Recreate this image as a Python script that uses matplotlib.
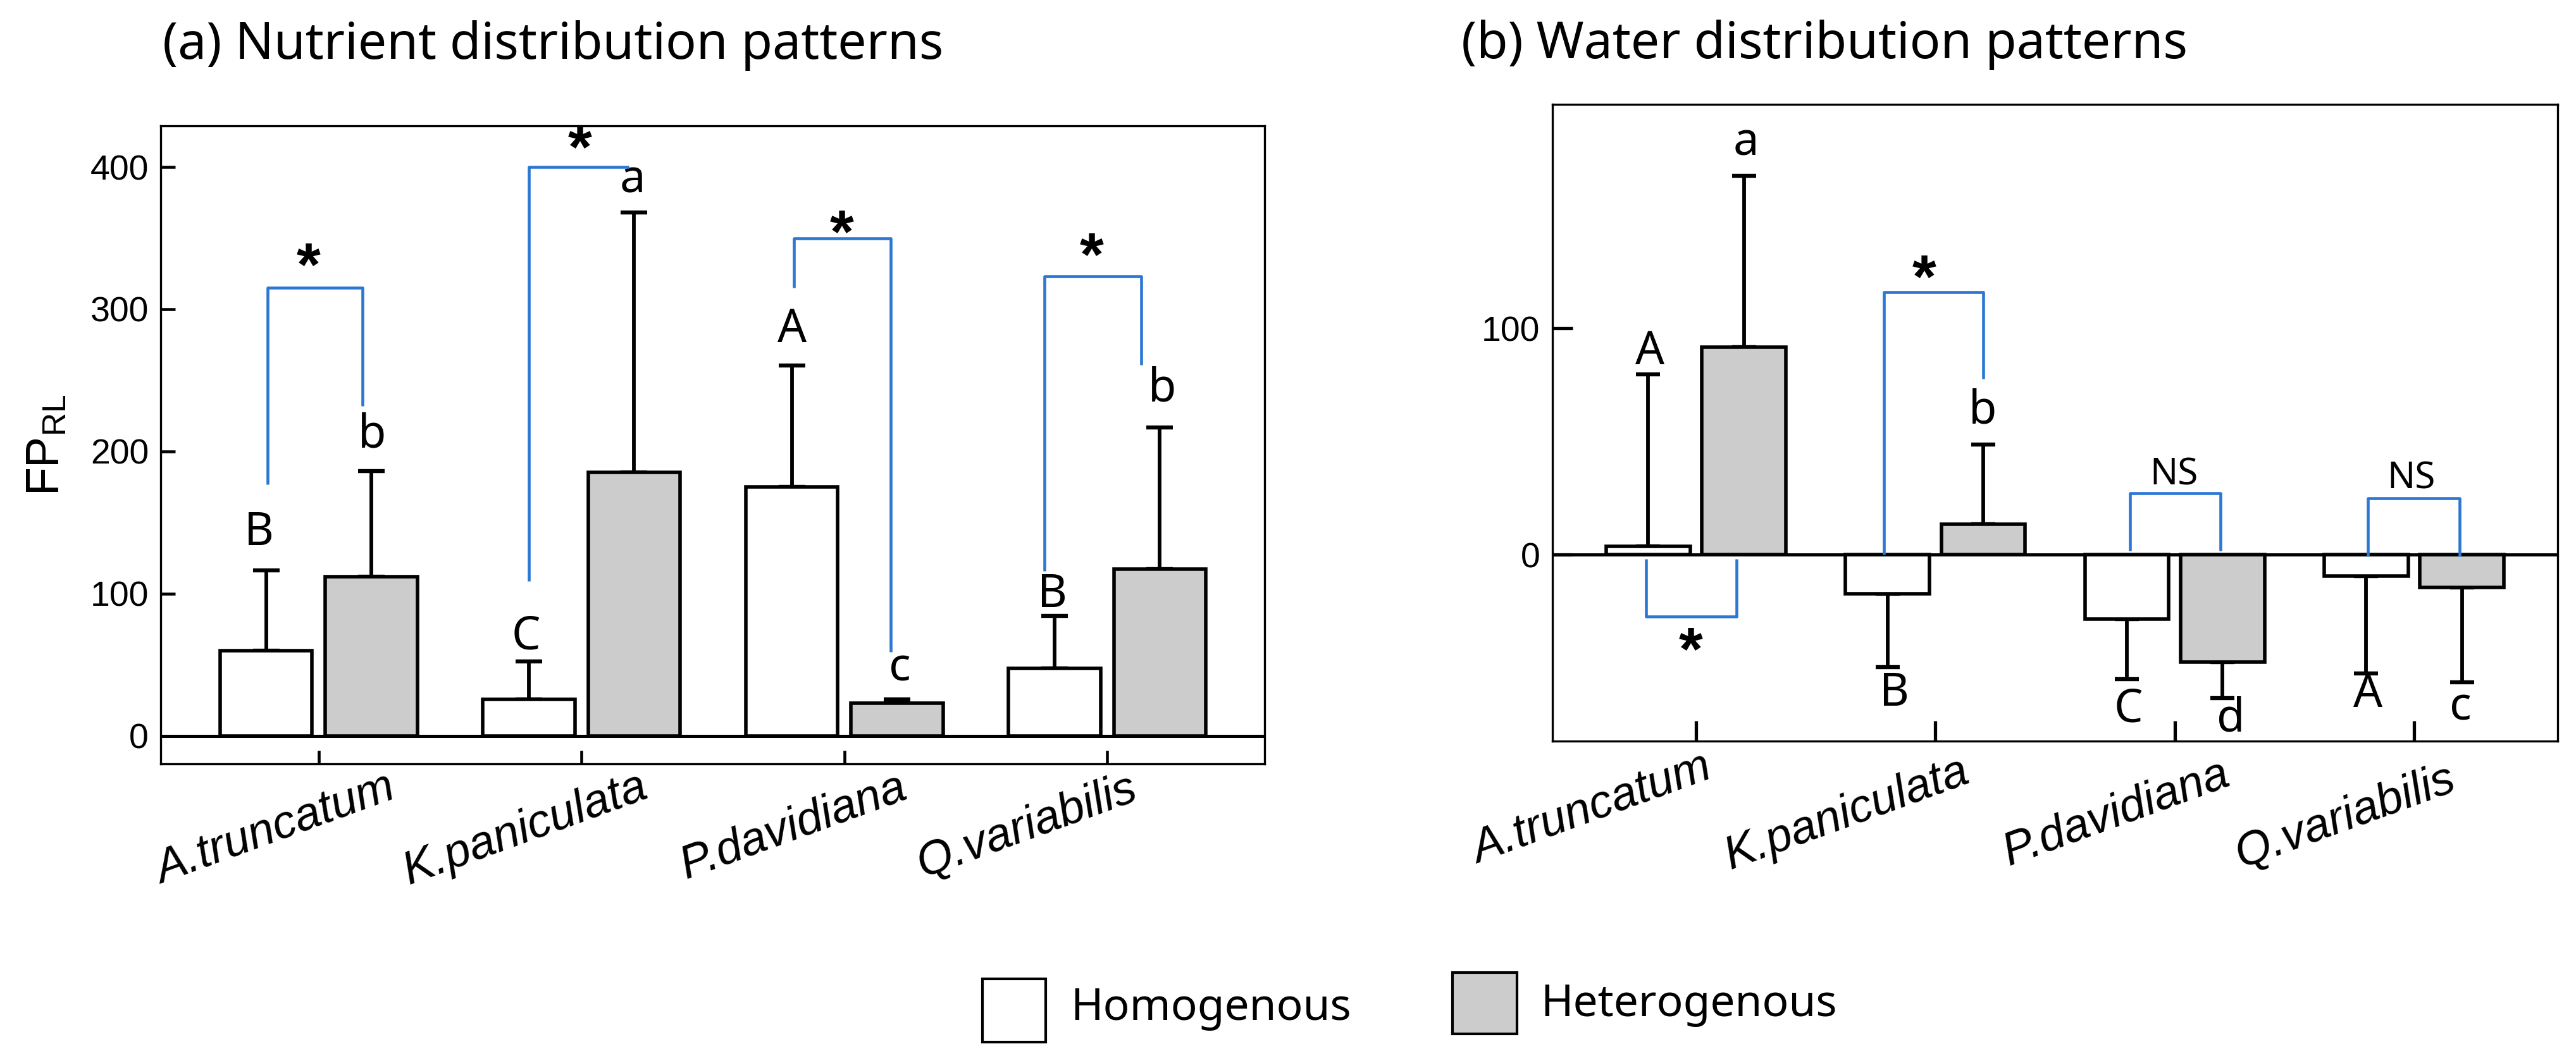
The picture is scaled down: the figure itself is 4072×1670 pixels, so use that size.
import matplotlib
matplotlib.use('Agg')
import matplotlib.pyplot as plt
from matplotlib.patches import Rectangle
from matplotlib.transforms import ScaledTranslation
import numpy as np

# ---------------- data ----------------
species = ['A.truncatum', 'K.paniculata', 'P.davidiana', 'Q.variabilis']

nut_homo = [60.0, 25.8, 175.2, 47.7]
nut_homo_se = [56.4, 26.6, 85.4, 36.5]
nut_het = [112.0, 185.5, 23.0, 117.2]
nut_het_se = [74.3, 182.3, 2.8, 99.7]

wat_homo = [3.7, -17.2, -28.4, -9.5]
wat_homo_se = [75.9, 32.4, 26.7, 42.9]
wat_het = [91.5, 13.5, -47.4, -14.5]
wat_het_se = [75.8, 35.1, 15.9, 41.9]

nut_letters_homo = ['B', 'C', 'A', 'B']
nut_letters_het = ['b', 'a', 'c', 'b']
wat_letters_homo = ['A', 'B', 'C', 'A']
wat_letters_het = ['a', 'b', 'd', 'c']

nut_yticks = [0, 100, 200, 300, 400]
wat_yticks = [0, 100]

legend_labels = ['Homogenous', 'Heterogenous']
titles = ['(a) Nutrient distribution patterns', '(b) Water distribution patterns']

# annotation geometry (data coords)
nut_letter_pos_homo = [(-0.226, 134), (0.789, 61), (1.80, 277), (2.79, 90.5)]
nut_letter_pos_het = [(0.204, 203), (1.195, 382), (2.21, 39), (3.21, 235.5)]
wat_letter_pos_homo = [(-0.193, 84), (0.829, -66.8), (1.806, -73.8), (2.807, -67.3)]
wat_letter_pos_het = [(0.209, 176.3), (1.198, 57.9), (2.235, -78), (3.193, -73)]

nut_brackets = [
    ([-0.195, -0.195, 0.167, 0.167], [177, 315, 315, 232], '*', (-0.038, 337)),
    ([0.799, 0.799, 1.18], [109, 400, 400], '*', (0.993, 419.6)),
    ([1.808, 1.808, 2.176, 2.176], [315, 350, 350, 59], '*', (1.991, 360)),
    ([2.761, 2.761, 3.129, 3.129], [116, 323, 323, 261], '*', (2.94, 344)),
]
wat_brackets = [
    ([-0.209, -0.209, 0.169, 0.169], [-2, -27.4, -27.4, -2], '*', (-0.021, -38.2)),
    ([0.786, 0.786, 1.2006, 1.2006], [0, 116, 116, 77.8], '*', (0.952, 126.4)),
    ([1.812, 1.812, 2.192, 2.192], [1.7, 27.2, 27.2, 1.7], 'NS', (1.996, 30.9)),
    ([2.807, 2.807, 3.19, 3.19], [-0.7, 25, 25, -0.7], 'NS', (2.988, 29.2)),
]

# x tick label placement: right end of baseline relative to tick (pixels)
nut_lbl_dx = [125, 109, 103, 51]
nut_lbl_dy = [54, 52, 53, 54]
wat_lbl_dx = [29, 58, 91, 69]
wat_lbl_dy = [58, 64, 68, 75]

# ---------------- style ----------------
W, H, DPI = 4073, 1670, 100
BLUE = '#2b77d2'
GRAY = '#cccccc'
SANS = ['Noto Sans', 'DejaVu Sans']
ARIAL = ['Liberation Sans', 'DejaVu Sans']

fig = plt.figure(figsize=(W / DPI, H / DPI), dpi=DPI)
fig.patch.set_facecolor('white')

ax_a = fig.add_axes([254.5 / W, 1 - 1208 / H, (1999.5 - 254.5) / W, (1208 - 199) / H])
ax_b = fig.add_axes([2454 / W, 1 - 1172 / H, (4043 - 2454) / W, (1172 - 165) / H])

bw = 0.35
off = 0.2
x = np.arange(len(species))


def draw_panel(ax, homo, homo_se, het, het_se, lh, lhp, lt, ltp, brackets,
               ylim, yticks, tlen_y, tlen_x, twidth, capsize, lbl_dx, lbl_dy):
    homo = np.array(homo)
    het = np.array(het)
    hse = np.array(homo_se)
    tse = np.array(het_se)
    # one-sided error bars pointing away from zero
    h_err = [np.where(homo < 0, hse, 0), np.where(homo >= 0, hse, 0)]
    t_err = [np.where(het < 0, tse, 0), np.where(het >= 0, tse, 0)]
    ax.bar(x - off, homo, width=bw, color='white', edgecolor='black', linewidth=4.0, zorder=3)
    ax.bar(x + off, het, width=bw, color=GRAY, edgecolor='black', linewidth=4.0, zorder=3)
    ax.errorbar(x - off, homo, yerr=h_err, fmt='none', ecolor='black', elinewidth=4.2,
                capsize=capsize, capthick=4.6, zorder=2)
    ax.errorbar(x + off, het, yerr=t_err, fmt='none', ecolor='black', elinewidth=4.2,
                capsize=capsize, capthick=4.6, zorder=2)
    ax.axhline(0, color='black', lw=3.6, zorder=4)
    for s, (px, py) in zip(lh, lhp):
        ax.text(px, py, s, ha='center', va='baseline', fontsize=52, family=SANS, zorder=5)
    for s, (px, py) in zip(lt, ltp):
        ax.text(px, py, s, ha='center', va='baseline', fontsize=52, family=SANS, zorder=5)
    for bx, by, lab, (sx, sy) in brackets:
        ax.plot(bx, by, color=BLUE, lw=3.3, solid_capstyle='butt', zorder=6)
        if lab == '*':
            ax.text(sx, sy, lab, ha='center', va='center', fontsize=70, fontweight='bold',
                    family=ARIAL, zorder=6,
                    transform=ax.transData + ScaledTranslation(0, -0.2, fig.dpi_scale_trans))
        else:
            ax.text(sx, sy, lab, ha='center', va='baseline', fontsize=42, family=SANS, zorder=6)
    ax.set_xlim(-0.6, 3.6)
    ax.set_ylim(*ylim)
    ax.set_yticks(yticks)
    ax.set_yticklabels([str(v) for v in yticks], fontsize=40, family=ARIAL)
    ax.set_xticks(x)
    ax.set_xticklabels(species, fontsize=53, family=ARIAL, fontstyle='italic',
                       rotation=20, ha='right', va='baseline', rotation_mode='anchor')
    ax.tick_params(axis='y', direction='in', length=tlen_y, width=twidth, pad=14)
    ax.tick_params(axis='x', direction='in', length=tlen_x, width=twidth, pad=0)
    for lab, dx, dy in zip(ax.get_xticklabels(), lbl_dx, lbl_dy):
        lab.set_transform(lab.get_transform() +
                          ScaledTranslation(dx / DPI, -dy / DPI, fig.dpi_scale_trans))
    for sp in ax.spines.values():
        sp.set_linewidth(2.4)
        sp.set_color('black')


draw_panel(ax_a, nut_homo, nut_homo_se, nut_het, nut_het_se,
           nut_letters_homo, nut_letter_pos_homo, nut_letters_het, nut_letter_pos_het,
           nut_brackets, (-19.6, 428.9), nut_yticks, 16.5, 15, 3.3, 15, nut_lbl_dx, nut_lbl_dy)
draw_panel(ax_b, wat_homo, wat_homo_se, wat_het, wat_het_se,
           wat_letters_homo, wat_letter_pos_homo, wat_letters_het, wat_letter_pos_het,
           wat_brackets, (-82.4, 198.9), wat_yticks, 23, 23, 3.8, 14, wat_lbl_dx, wat_lbl_dy)

ax_a.set_ylabel(r'$\mathregular{FP_{RL}}$', fontsize=53, family=ARIAL)
ax_a.yaxis.set_label_coords(-0.084, 0.5)

# titles
fig.text(257 / W, 1 - 92.6 / H, titles[0], fontsize=58, family=SANS, ha='left', va='baseline')
fig.text(2310 / W, 1 - 92 / H, titles[1], fontsize=58, family=SANS, ha='left', va='baseline')

# legend
fig.add_artist(Rectangle((1553 / W, 1 - 1648 / H), 100 / W, 100 / H, transform=fig.transFigure,
                         facecolor='white', edgecolor='black', lw=3))
fig.text(1692 / W, 1 - 1613 / H, legend_labels[0], fontsize=50, family=SANS, va='baseline')
fig.add_artist(Rectangle((2296 / W, 1 - 1635 / H), 102 / W, 97 / H, transform=fig.transFigure,
                         facecolor=GRAY, edgecolor='black', lw=3))
fig.text(2435 / W, 1 - 1607 / H, legend_labels[1], fontsize=50, family=SANS, va='baseline')

fig.savefig('out.png', dpi=DPI, facecolor='white')
